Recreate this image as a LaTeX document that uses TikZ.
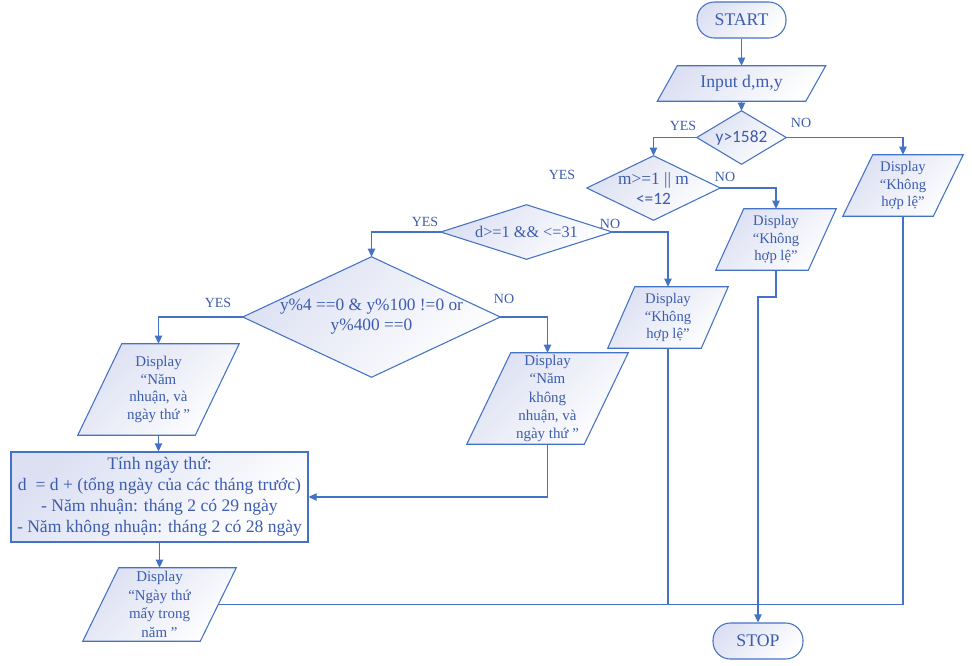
\documentclass[tikz,border=0pt]{standalone}
\usepackage{fontspec}
\setmainfont{Liberation Serif}
\newfontfamily\calib{Carlito}
\usetikzlibrary{arrows.meta,backgrounds}
\definecolor{ln}{RGB}{68,114,196}
\definecolor{tx}{RGB}{60,92,175}
\definecolor{fl}{RGB}{220,224,242}
\newcommand\fD{\fontsize{11}{13}\selectfont}
\newcommand\fT{\fontsize{13.3}{15}\selectfont}
\newcommand\fQ{\fontsize{13}{15}\selectfont}
\newcommand\fL{\fontsize{10.5}{12}\selectfont}
\newcommand\fR{\fontsize{13.2}{15.75}\selectfont}
\newcommand\mypara[2]{\path[shp] ([xshift=#2*0.75pt]#1.north west) -- (#1.north east) -- ([xshift=-#2*0.75pt]#1.south east) -- (#1.south west) -- cycle;}
\newcommand\mydiam[1]{\path[shp] (#1.north) -- (#1.east) -- (#1.south) -- (#1.west) -- cycle;}
\begin{document}
\begin{tikzpicture}[x=0.75pt,y=-0.75pt,
  shp/.style={draw=ln,line width=0.8pt,top color=fl,bottom color=white,shading angle=45},
  bx/.style 2 args={rectangle,inner sep=0pt,minimum width=#1*0.75pt,minimum height=#2*0.75pt,align=center,text=tx},
  lbl/.style={text=tx,font=\fL,inner sep=0pt},
  conn/.style={draw=ln,line width=0.8pt},
  arr/.style={conn,-{Triangle[length=6pt,width=5.5pt]}}]
\useasboundingbox (0,0) rectangle (972,665);
% terminals, decisions, inputs/outputs
\node[bx={89}{36},shp,rounded corners=13pt,font=\fT] (start) at (741.5,20) {START};
\node[bx={168}{35},font=\fT] (inp) at (741.5,83.5) {Input d,m,y};
\node[bx={89}{53},font=\calib\fontsize{13}{15}\selectfont] (q1) at (741.5,137.5) {y>1582};
\node[bx={133}{64},font=\fQ] (q2) at (653.5,188) {m>=1 || m\\{\calib <=12}};
\node[bx={171}{54},font=\fontsize{12.2}{14}\selectfont] (q3) at (526.5,232) {d>=1 \&\& <=31};
\node[bx={257}{120},font=\fQ] (q4) at (371.5,317) {y\%4 ==0 \& y\%100 !=0 or\\y\%400 ==0};
\node[bx={120}{61},font=\fD] (r1) at (903,185.5) {Display\\“Không\\hợp lệ”};
\node[bx={120}{61},font=\fD] (d2) at (776,239.5) {Display\\“Không\\hợp lệ”};
\node[bx={120}{61},font=\fD] (d3) at (668,317.5) {Display\\“Không\\hợp lệ”};
\node[bx={161}{91},font=\fontsize{11.2}{13.3}\selectfont] (l1) at (158.5,389.5) {Display\\“Năm\\nhuận, và\\ngày thứ ”};
\node[bx={161}{91},font=\fontsize{11.2}{13.8}\selectfont] (l2) at (547.5,398.5) {Display\\“Năm\\không\\nhuận, và\\ngày thứ ”};
\node[bx={297}{90},shp,font=\fR] (calc) at (159.5,497) {Tính ngày thứ:\\d \ = d + (tổng ngày của các tháng trước)\\- Năm nhuận: tháng 2 có 29 ngày\\- Năm không nhuận: tháng 2 có 28 ngày};
\node[bx={153}{73},font=\fontsize{11.2}{14}\selectfont] (fin) at (159.5,604.5) {Display\\“Ngày thứ\\mấy trong\\năm ”};
\node[bx={90}{36},shp,rounded corners=13pt,font=\fT] (stop) at (758,641) {STOP};
\begin{scope}[on background layer]
\mypara{inp}{20}
\mydiam{q1}
\mydiam{q2}
\mydiam{q3}
\mydiam{q4}
\mypara{r1}{30}
\mypara{d2}{28}
\mypara{d3}{27}
\mypara{l1}{44}
\mypara{l2}{44}
\mypara{fin}{36}
\end{scope}
% labels
\node[lbl] (y1) at (683,126) {YES};
\node[lbl] (n1) at (801,123) {NO};
\node[lbl] (y2) at (562,175) {YES};
\node[lbl] (n2) at (725,177) {NO};
\node[lbl] (y3) at (425,222) {YES};
\node[lbl] (n3) at (610,224) {NO};
\node[lbl] (y4) at (218,303) {YES};
\node[lbl] (n4) at (504,299) {NO};
% connectors
\coordinate (j) at (758,297);
\draw[arr] (start.south) -- (inp.north);
\draw[arr] (inp.south) -- (q1.north);
\draw[arr] (q1.west) -| (q2.north);
\draw[arr] (q1.east) -| (r1.north);
\draw[arr] (q2.east) -| (d2.north);
\draw[arr] (q3.east) -| (d3.north);
\draw[arr] (q3.west) -| (q4.north);
\draw[arr] (q4.west) -| (l1.north);
\draw[arr] (q4.east) -| (l2.north);
\draw[arr] (l1.south) -- (l1.south |- calc.north);
\draw[arr] (l2.south) |- (calc.east);
\draw[arr] (calc.south) -- (fin.north);
\draw[conn] ([xshift=-18*0.75pt]fin.east) -| (r1.south);
\draw[conn] (d3.south) -- (d3.south |- fin.east);
\draw[arr] (d2.south) |- (j) -- (stop.north);
\end{tikzpicture}
\end{document}
